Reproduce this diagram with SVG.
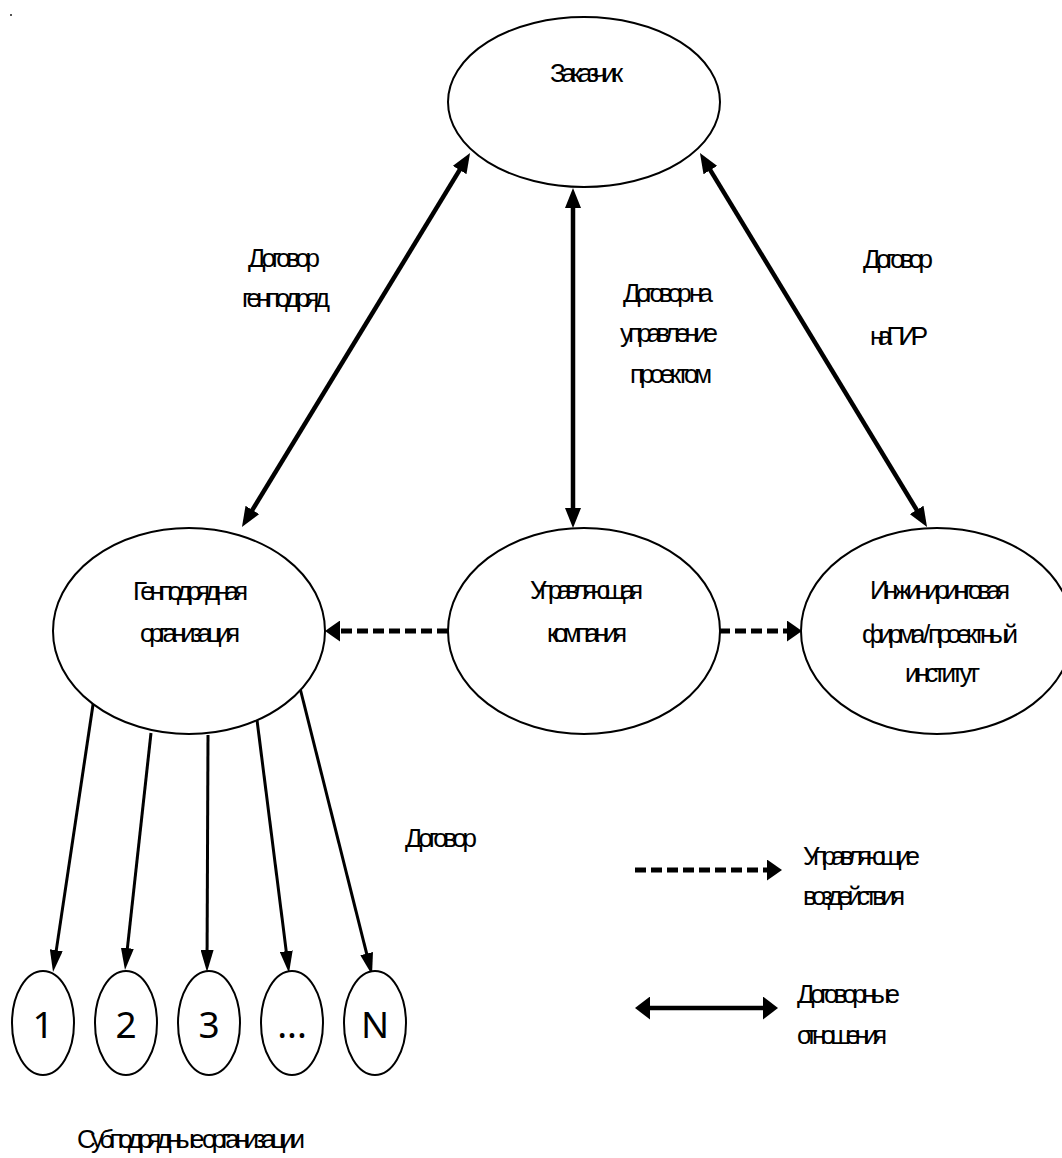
<svg xmlns="http://www.w3.org/2000/svg" width="1062" height="1158" viewBox="0 0 1062 1158">
<style>
.n{fill:#fff;stroke:#000;stroke-width:2}
.t{font-family:"Liberation Sans",Arial,sans-serif;font-size:26px;fill:#000}
.num{font-family:"Noto Sans","Liberation Sans",sans-serif;font-size:37px;fill:#000;text-anchor:middle}
.thick{stroke:#000;stroke-width:4.5;fill:none}
.thin{stroke:#000;stroke-width:3;fill:none}
.dash{stroke:#000;stroke-width:5;fill:none;stroke-dasharray:11 5}
</style>
<defs>
<marker id="ah" markerUnits="userSpaceOnUse" markerWidth="20" markerHeight="16" refX="8" refY="8" orient="auto-start-reverse"><path d="M0,0 L20,8 L0,16 z" fill="#000"/></marker>
<marker id="sh" markerUnits="userSpaceOnUse" markerWidth="22" markerHeight="13" refX="10" refY="6.5" orient="auto"><path d="M0,0 L22,6.5 L0,13 z" fill="#000"/></marker>
<marker id="dh" markerUnits="userSpaceOnUse" markerWidth="15" markerHeight="21" refX="3" refY="10.5" orient="auto"><path d="M0,0 L15,10.5 L0,21 z" fill="#000"/></marker>
<marker id="lh" markerUnits="userSpaceOnUse" markerWidth="15" markerHeight="23" refX="3" refY="11.5" orient="auto-start-reverse"><path d="M0,0 L15,11.5 L0,23 z" fill="#000"/></marker>
</defs>
<rect width="1062" height="1158" fill="#fff"/>
<rect x="10" y="14" width="2" height="2" fill="#555"/>

<g id="connectors">
<line class="thick" x1="248.2" y1="516.8" x2="463.8" y2="163.2" marker-start="url(#ah)" marker-end="url(#ah)"/>
<line class="thick" x1="573" y1="200" x2="573" y2="516" marker-start="url(#ah)" marker-end="url(#ah)"/>
<line class="thick" x1="706.2" y1="163.3" x2="920.8" y2="516.7" marker-start="url(#ah)" marker-end="url(#ah)"/>
<line class="dash" x1="448" y1="631" x2="337" y2="631" marker-end="url(#dh)"/>
<line class="dash" x1="719" y1="631" x2="790" y2="631" marker-end="url(#dh)"/>
<line class="thin" x1="94" y1="698" x2="54.8" y2="960.1" marker-end="url(#sh)"/>
<line class="thin" x1="151" y1="733" x2="126.3" y2="958.1" marker-end="url(#sh)"/>
<line class="thin" x1="208" y1="735" x2="207.05" y2="960" marker-end="url(#sh)"/>
<line class="thin" x1="257" y1="720" x2="287.5" y2="961.1" marker-end="url(#sh)"/>
<line class="thin" x1="300" y1="688" x2="369.1" y2="963.4" marker-end="url(#sh)"/>
</g>

<g id="zakazchik">
<ellipse class="n" cx="584" cy="102" rx="136" ry="85"/>
<text class="t" x="550" y="82" textLength="73" lengthAdjust="spacing">Заказчик</text>
</g>
<g id="genpodryad">
<ellipse class="n" cx="189" cy="631" rx="136" ry="103"/>
<text class="t" x="133" y="600" textLength="115" lengthAdjust="spacing">Генподрядная</text>
<text class="t" x="140" y="642" textLength="100" lengthAdjust="spacing">организация</text>
</g>
<g id="upravl">
<ellipse class="n" cx="584" cy="631" rx="136" ry="103"/>
<text class="t" x="530" y="599" textLength="113" lengthAdjust="spacing">Управляющая</text>
<text class="t" x="547" y="642" textLength="80" lengthAdjust="spacing">компания</text>
</g>
<g id="inzh">
<ellipse class="n" cx="937" cy="631" rx="136" ry="103"/>
<text class="t" x="870" y="599" textLength="140" lengthAdjust="spacing">Инжиниринговая</text>
<text class="t" x="862" y="643" textLength="156" lengthAdjust="spacing">фирма / проектный</text>
<text class="t" x="905" y="682" textLength="75" lengthAdjust="spacing">институт</text>
</g>

<g id="sub1"><ellipse class="n" cx="43" cy="1023" rx="31" ry="52"/><text class="num" x="43" y="1038">1</text></g>
<g id="sub2"><ellipse class="n" cx="126" cy="1023" rx="31" ry="52"/><text class="num" x="126" y="1038">2</text></g>
<g id="sub3"><ellipse class="n" cx="209" cy="1023" rx="31" ry="52"/><text class="num" x="209" y="1038">3</text></g>
<g id="sub4"><ellipse class="n" cx="292" cy="1023" rx="31" ry="52"/><text class="num" x="292" y="1038">...</text></g>
<g id="subN"><ellipse class="n" cx="375" cy="1023" rx="31" ry="52"/><text class="num" x="375" y="1038">N</text></g>

<g id="labels">
<text class="t" x="248" y="267" textLength="72" lengthAdjust="spacing">Договор</text>
<text class="t" x="242" y="307" textLength="88" lengthAdjust="spacing">генподряд</text>
<text class="t" x="623" y="302" textLength="90" lengthAdjust="spacing">Договор на</text>
<text class="t" x="620" y="342" textLength="98" lengthAdjust="spacing">управление</text>
<text class="t" x="630" y="383" textLength="82" lengthAdjust="spacing">проектом</text>
<text class="t" x="863" y="268" textLength="70" lengthAdjust="spacing">Договор</text>
<text class="t" x="870" y="345" textLength="58" lengthAdjust="spacing">на ПИР</text>
<text class="t" x="405" y="847" textLength="72" lengthAdjust="spacing">Договор</text>
<text class="t" x="77" y="1148" textLength="228" lengthAdjust="spacing">Субподрядные организации</text>
</g>

<g id="legend">
<line class="dash" x1="635" y1="870" x2="770" y2="870" marker-end="url(#dh)"/>
<text class="t" x="803" y="865" textLength="117" lengthAdjust="spacing">Управляющие</text>
<text class="t" x="803" y="905" textLength="102" lengthAdjust="spacing">воздействия</text>
<line class="thick" x1="647" y1="1008" x2="766" y2="1008" stroke-width="5" marker-start="url(#lh)" marker-end="url(#lh)"/>
<text class="t" x="797" y="1003" textLength="103" lengthAdjust="spacing">Договорные</text>
<text class="t" x="797" y="1044" textLength="90" lengthAdjust="spacing">отношения</text>
</g>
</svg>
